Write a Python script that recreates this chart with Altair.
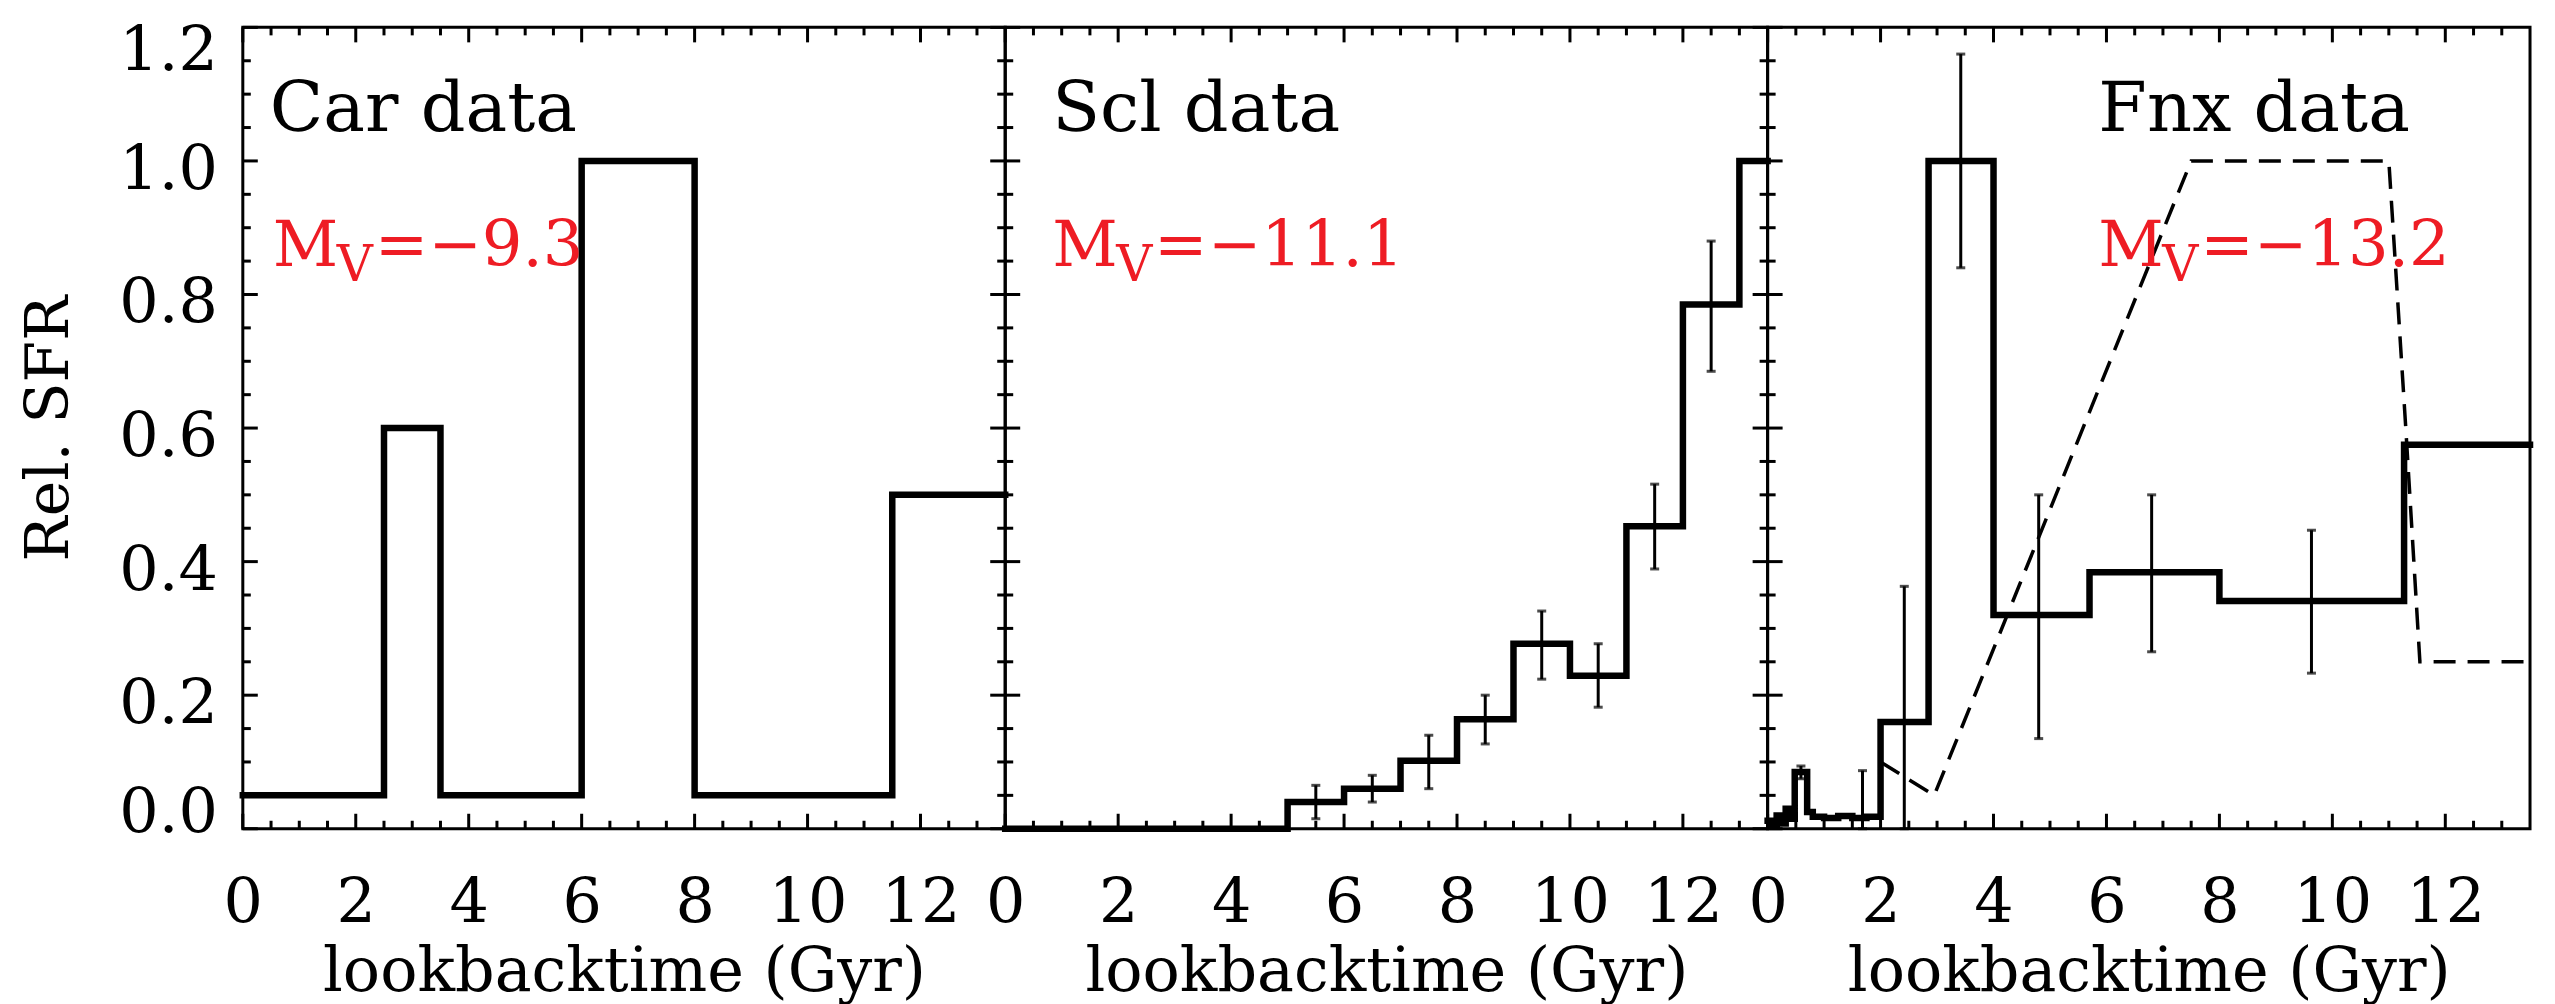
import altair as alt
import pandas as pd

FONT = "DejaVu Serif"
RED = "#ee1c24"

# ---------------- data ----------------
PANEL_NAMES = ["Car data", "Scl data", "Fnx data"]
MV_VALUES = ["=\u22129.3", "=\u221211.1", "=\u221213.2"]

CAR_EDGES = [0.0, 2.5, 3.5, 6.0, 8.0, 11.5, 13.5]
CAR_SFR = [0.05, 0.60, 0.05, 1.00, 0.05, 0.50]

SCL_EDGES = [0.0, 5.0, 6.0, 7.0, 8.0, 9.0, 10.0, 11.0, 12.0, 13.0, 13.5]
SCL_SFR = [0.0, 0.04, 0.06, 0.102, 0.164, 0.277, 0.229, 0.453, 0.785, 1.0]
SCL_ERR_X = [5.5, 6.5, 7.5, 8.5, 9.5, 10.5, 11.5, 12.5]
SCL_ERR_LO = [0.015, 0.04, 0.06, 0.127, 0.224, 0.182, 0.389, 0.685]
SCL_ERR_HI = [0.065, 0.08, 0.14, 0.200, 0.326, 0.277, 0.516, 0.880]

FNX_EDGES = [0.0, 0.08, 0.16, 0.24, 0.32, 0.40, 0.48, 0.70, 0.80, 1.0, 1.25,
             1.5, 1.75, 2.0, 2.85, 4.0, 5.7, 8.0, 11.27, 13.5]
FNX_SFR = [0.012, 0.003, 0.02, 0.008, 0.03, 0.015, 0.085, 0.025, 0.018, 0.016,
           0.019, 0.016, 0.018, 0.16, 1.0, 0.32, 0.384, 0.341, 0.575]
FNX_ERR_X = [0.59, 1.68, 2.42, 3.42, 4.80, 6.80, 9.63]
FNX_ERR_LO = [0.075, 0.0, 0.0, 0.84, 0.135, 0.265, 0.233]
FNX_ERR_HI = [0.094, 0.087, 0.363, 1.16, 0.50, 0.50, 0.447]

FNX_MODEL_X = [2.0, 2.95, 7.5, 11.0, 11.3, 11.55, 13.5]
FNX_MODEL_Y = [0.10, 0.05, 1.0, 1.0, 0.60, 0.25, 0.25]

X_LABELS = [0, 2, 4, 6, 8, 10, 12]
X_MINOR = [0.5, 1.0, 1.5, 2.5, 3.0, 3.5, 4.5, 5.0, 5.5, 6.5, 7.0, 7.5,
           8.5, 9.0, 9.5, 10.5, 11.0, 11.5, 12.5, 13.0]
Y_LABELS = [0.0, 0.2, 0.4, 0.6, 0.8, 1.0, 1.2]
Y_LABEL_TEXT = ["0.0", "0.2", "0.4", "0.6", "0.8", "1.0", "1.2"]
Y_MINOR = [0.05, 0.1, 0.15, 0.25, 0.3, 0.35, 0.45, 0.5, 0.55, 0.65, 0.7, 0.75,
           0.85, 0.9, 0.95, 1.05, 1.1, 1.15]

X_TITLE = "lookbacktime (Gyr)"
Y_TITLE = "Rel. SFR"

# ---------------- layout ----------------
W, H = 763, 802
MAJ, MIN = 15, 8
# name x, "M" x, subscript x, rest x (pixels from panel's left edge)
TEXT_X = [[27, 30, 94, 132], [47, 47, 111, 149], [331, 331, 395, 433]]

xscale = alt.Scale(domain=[0, 13.5], nice=False, zero=False)
yscale = alt.Scale(domain=[0, 1.2], nice=False, zero=False)

x_axis = alt.Axis(values=X_LABELS, format="d", labelFlush=False, labelOverlap=False,
                  labelPadding=44, labelFontSize=62, title=X_TITLE, titleFontSize=62,
                  titleY=162, titleBaseline="alphabetic")
y_axis_main = alt.Axis(values=Y_LABELS, labels=False,
                       title=Y_TITLE, titleFontSize=60, titleAngle=270,
                       titleX=-175, titleY=H / 2, titleAlign="center",
                       titleBaseline="alphabetic")


def X(field="x"):
    return alt.X(f"{field}:Q", scale=xscale, axis=x_axis)


def Y(field, first):
    return alt.Y(f"{field}:Q", scale=yscale, axis=y_axis_main if first else None)


def panel(i, edges, vals, err=None, model=None, right_ticks=True):
    first = i == 0
    layers = []
    # x ticks (bottom and top, pointing inward)
    for vals_t, ln in ((X_LABELS, MAJ), (X_MINOR, MIN)):
        d = pd.DataFrame({"x": vals_t})
        layers.append(alt.Chart(d).mark_rule(color="black", strokeWidth=3).encode(
            x=X(), y=alt.value(H), y2=alt.value(H - ln)))
        layers.append(alt.Chart(d).mark_rule(color="black", strokeWidth=3).encode(
            x=X(), y=alt.value(0), y2=alt.value(ln)))
    # y ticks (left and right, pointing inward)
    for vals_t, ln in ((Y_LABELS, MAJ), (Y_MINOR, MIN)):
        d = pd.DataFrame({"y": vals_t})
        layers.append(alt.Chart(d).mark_rule(color="black", strokeWidth=3).encode(
            y=Y("y", first), x=alt.value(0), x2=alt.value(ln)))
        if right_ticks:
            layers.append(alt.Chart(d).mark_rule(color="black", strokeWidth=3).encode(
                y=Y("y", first), x=alt.value(W), x2=alt.value(W - ln)))
    # y tick labels (first panel only), IDL-style placement
    if first:
        groups = [(slice(1, 6), 9), (slice(0, 1), -16), (slice(6, 7), 24)]
        for sl, dy in groups:
            d = pd.DataFrame({"y": Y_LABELS[sl], "t": Y_LABEL_TEXT[sl]})
            layers.append(alt.Chart(d).mark_text(
                font=FONT, fontSize=62, align="right", baseline="middle", dy=dy,
                color="black").encode(y=Y("y", first), x=alt.value(-25), text="t:N"))
    # histogram
    hist = pd.DataFrame({"x": edges, "y": list(vals) + [vals[-1]]})
    layers.append(alt.Chart(hist).mark_line(color="black", strokeWidth=6.5,
                                            interpolate="step-after", strokeJoin="miter",
                                            strokeCap="square").encode(
        x=X(), y=Y("y", first)))
    if err is not None:
        ex, lo, hi = err
        ed = pd.DataFrame({"x": ex, "y": lo, "y2": hi})
        layers.append(alt.Chart(ed).mark_rule(color="black", strokeWidth=3).encode(
            x=X(), y=Y("y", first), y2="y2:Q"))
        for f in ("y", "y2"):
            layers.append(alt.Chart(ed).mark_tick(color="black", thickness=3, size=9,
                                                  orient="horizontal").encode(
                x=X(), y=Y(f, first)))
    if model is not None:
        md = pd.DataFrame({"x": model[0], "y": model[1]})
        layers.append(alt.Chart(md).mark_line(color="black", strokeWidth=3.5,
                                              strokeDash=[22, 12]).encode(
            x=X(), y=Y("y", first)))
    # annotations
    tx = TEXT_X[i]
    lab = pd.DataFrame({"name": [PANEL_NAMES[i]], "m": ["M"], "v": ["V"],
                        "rest": [MV_VALUES[i]]})
    base = alt.Chart(lab)
    layers.append(base.mark_text(font=FONT, fontSize=70, align="left", baseline="alphabetic",
                                 color="black").encode(
        text="name:N", x=alt.value(tx[0]), y=alt.value(104)))
    layers.append(base.mark_text(font=FONT, fontSize=64, align="left", baseline="alphabetic",
                                 color=RED).encode(
        text="m:N", x=alt.value(tx[1]), y=alt.value(239)))
    layers.append(base.mark_text(font=FONT, fontSize=50, align="left", baseline="alphabetic",
                                 color=RED).encode(
        text="v:N", x=alt.value(tx[2]), y=alt.value(254)))
    layers.append(base.mark_text(font=FONT, fontSize=64, align="left", baseline="alphabetic",
                                 color=RED).encode(
        text="rest:N", x=alt.value(tx[3]), y=alt.value(239)))
    return alt.layer(*layers).properties(width=W, height=H)


p1 = panel(0, CAR_EDGES, CAR_SFR)
p2 = panel(1, SCL_EDGES, SCL_SFR, err=(SCL_ERR_X, SCL_ERR_LO, SCL_ERR_HI))
p3 = panel(2, FNX_EDGES, FNX_SFR, err=(FNX_ERR_X, FNX_ERR_LO, FNX_ERR_HI),
           model=(FNX_MODEL_X, FNX_MODEL_Y), right_ticks=False)

chart = alt.hconcat(p1, p2, p3, spacing=0, bounds="flush").properties(
    padding={"left": 18, "top": 18, "right": 10, "bottom": 0},
    background="white",
).configure_view(stroke="black", strokeWidth=3).configure_axis(
    labelFont=FONT, titleFont=FONT, labelColor="black", titleColor="black",
    titleFontWeight="normal", grid=False, domain=False, ticks=False, tickSize=0,
)

chart.save("out.html", embed_options={"renderer": "svg", "actions": False})
